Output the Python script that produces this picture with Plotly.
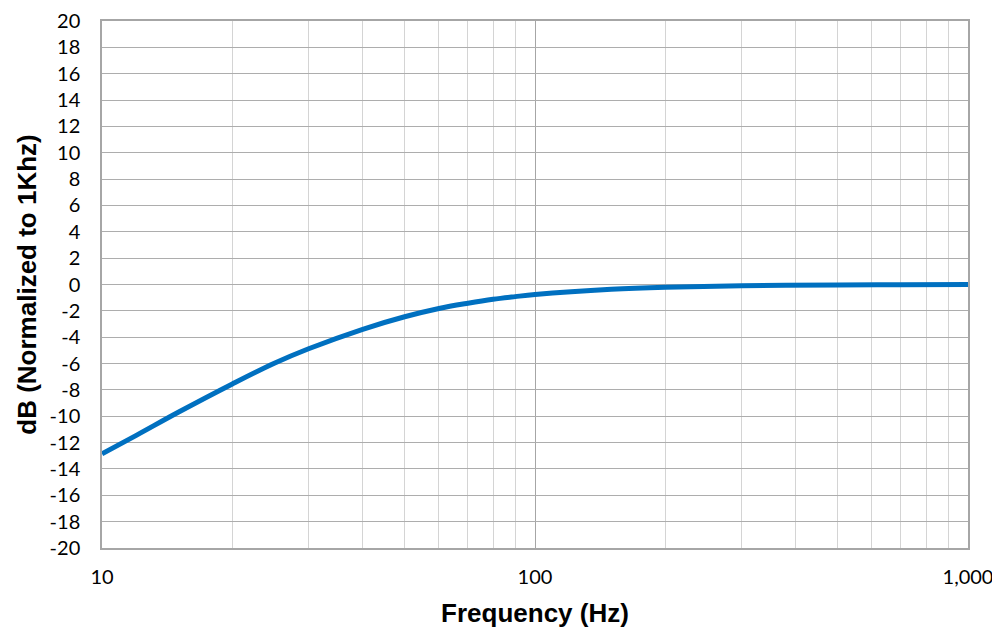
import plotly.graph_objects as go

freq_hz = [10, 12, 15, 20, 25, 30, 40, 50, 60, 70, 80, 90, 100, 150, 200, 300, 500, 700, 1000]
gain_db = [-12.85, -11.45, -9.7, -7.55, -5.98, -4.88, -3.4, -2.45, -1.82, -1.42, -1.12, -0.92, -0.76,
           -0.36, -0.2, -0.09, -0.03, -0.02, 0.0]

x_major = [10, 100, 1000]
x_major_text = ["10", "100", "1,000"]
x_minor = [20, 30, 40, 50, 60, 70, 80, 90, 200, 300, 400, 500, 600, 700, 800, 900]
y_ticks = list(range(-20, 21, 2))
y_tick_text = [str(v) for v in y_ticks]  # hyphen-minus like the reference

tick_font = "Lato, 'Open Sans', Arial, sans-serif"
title_font = "'Liberation Sans', Arial, sans-serif"

fig = go.Figure()
fig.add_trace(go.Scatter(
    x=freq_hz, y=gain_db, mode="lines",
    line=dict(color="#0070C0", width=5, shape="spline", smoothing=1.0),
    hoverinfo="x+y", showlegend=False,
))

# page body has an 8px default margin, so margins are offset by 8px
fig.update_layout(
    width=1000, height=636,
    margin=dict(l=94, r=40, t=13, b=96),
    paper_bgcolor="white", plot_bgcolor="white",
    font=dict(family=tick_font, size=20, color="#000000"),
    xaxis=dict(
        type="log", range=[1, 3], automargin=False,
        tickmode="array", tickvals=x_major, ticktext=x_major_text,
        showgrid=True, gridcolor="#A6A6A6", gridwidth=1,
        showline=True, linecolor="#A6A6A6", linewidth=1.5, mirror=True,
        ticks="", ticklen=0, ticklabelstandoff=10,
        minor=dict(tickmode="array", tickvals=x_minor, showgrid=True, gridcolor="#D4D4D4", gridwidth=1, ticks=""),
        title=dict(text="<b>Frequency (Hz)</b>", font=dict(size=26, family=title_font), standoff=17),
        tickfont=dict(size=20),
        zeroline=False,
    ),
    yaxis=dict(
        range=[-20, 20], automargin=False,
        tickmode="array", tickvals=y_ticks, ticktext=y_tick_text,
        showgrid=True, gridcolor="#ADADAD", gridwidth=1.3,
        showline=True, linecolor="#A6A6A6", linewidth=1.5, mirror=True,
        ticks="", ticklen=0, ticklabelstandoff=16,
        title=dict(text="<b>dB (Normalized to 1Khz)</b>", font=dict(size=26, family=title_font), standoff=6),
        tickfont=dict(size=20),
        zeroline=False,
    ),
)

fig.write_html("out.html")
